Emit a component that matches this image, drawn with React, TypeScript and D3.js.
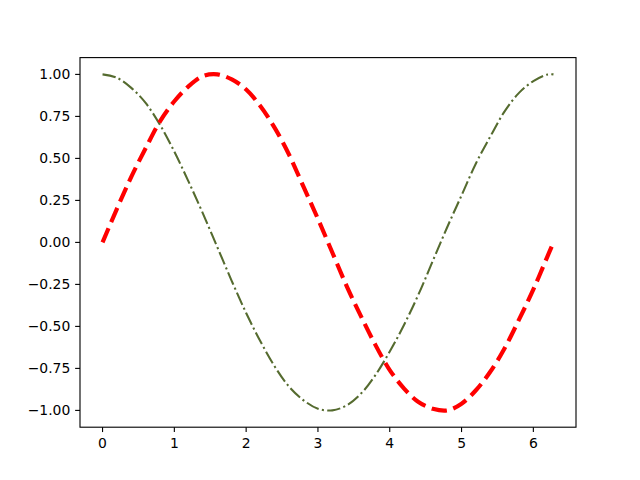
import React from "react";
import * as d3 from "d3";

const xs = [0, 0.2, 0.4, 0.6, 0.8, 1.0, 1.2, 1.4, 1.6, 1.8, 2.0, 2.2, 2.4, 2.6, 2.8, 3.0, 3.2, 3.4, 3.6, 3.8, 4.0, 4.2, 4.4, 4.6, 4.8, 5.0, 5.2, 5.4, 5.6, 5.8, 6.0, 6.2, 6.28];
const sinValues = [0, 0.2, 0.39, 0.56, 0.72, 0.84, 0.93, 0.99, 1.0, 0.97, 0.91, 0.81, 0.68, 0.52, 0.33, 0.14, -0.06, -0.26, -0.44, -0.61, -0.76, -0.87, -0.95, -0.99, -1.0, -0.96, -0.88, -0.77, -0.63, -0.46, -0.28, -0.08, 0.0];
const cosValues = [1.0, 0.98, 0.92, 0.83, 0.7, 0.54, 0.36, 0.17, -0.03, -0.23, -0.42, -0.59, -0.74, -0.86, -0.94, -0.99, -1.0, -0.97, -0.9, -0.79, -0.65, -0.49, -0.31, -0.11, 0.09, 0.28, 0.47, 0.63, 0.78, 0.89, 0.96, 1.0, 1.0];
const xTicks = [0, 1, 2, 3, 4, 5, 6];
const yTicks = [1.0, 0.75, 0.5, 0.25, 0.0, -0.25, -0.5, -0.75, -1.0];

const W = 640, H = 480;
const L = 80, R = 576, T = 57.6, B = 427.2;
const FONT = "DejaVu Sans, sans-serif";

export default function App() {
  const xMax = xs[xs.length - 1];
  const xPad = xMax * 0.05;
  const x = d3.scaleLinear().domain([-xPad, xMax + xPad]).range([L, R]);
  const y = d3.scaleLinear().domain([-1.1, 1.1]).range([B, T]);
  const line = d3
    .line<number>()
    .x((_, i) => x(xs[i]))
    .y((d) => y(d))
    .curve(d3.curveCatmullRom);
  const fmtY = (v: number) => (v < 0 ? "\u2212" : "") + Math.abs(v).toFixed(2);
  const tickLen = 4.86;
  return (
    <svg width={W} height={H} style={{ position: "fixed", left: 0, top: 0, background: "#fff" }}>
      <rect x={0} y={0} width={W} height={H} fill="#fff" />
      <defs>
        <clipPath id="clip">
          <rect x={L} y={T} width={R - L} height={B - T} />
        </clipPath>
      </defs>
      <g clipPath="url(#clip)">
        <path
          d={line(cosValues) || ""}
          fill="none"
          stroke="#556B2F"
          strokeWidth={2.08}
          strokeDasharray="13.3,3.3,2.1,3.3"
        />
        <path
          d={line(sinValues) || ""}
          fill="none"
          stroke="#ff0000"
          strokeWidth={4.17}
          strokeDasharray="15.4,6.7"
        />
      </g>
      <rect x={L} y={T} width={R - L} height={B - T} fill="none" stroke="#000" strokeWidth={1.11} />
      {xTicks.map((t) => (
        <g key={"x" + t}>
          <line x1={x(t)} x2={x(t)} y1={B} y2={B + tickLen} stroke="#000" strokeWidth={1.11} />
          <text x={x(t)} y={B + tickLen + 4.86 + 11} textAnchor="middle" fontFamily={FONT} fontSize={13.9} fill="#000">
            {String(t)}
          </text>
        </g>
      ))}
      {yTicks.map((t) => (
        <g key={"y" + t}>
          <line x1={L - tickLen} x2={L} y1={y(t)} y2={y(t)} stroke="#000" strokeWidth={1.11} />
          <text x={L - tickLen - 4.86} y={y(t)} dy="0.36em" textAnchor="end" fontFamily={FONT} fontSize={13.9} fill="#000">
            {fmtY(t)}
          </text>
        </g>
      ))}
    </svg>
  );
}
